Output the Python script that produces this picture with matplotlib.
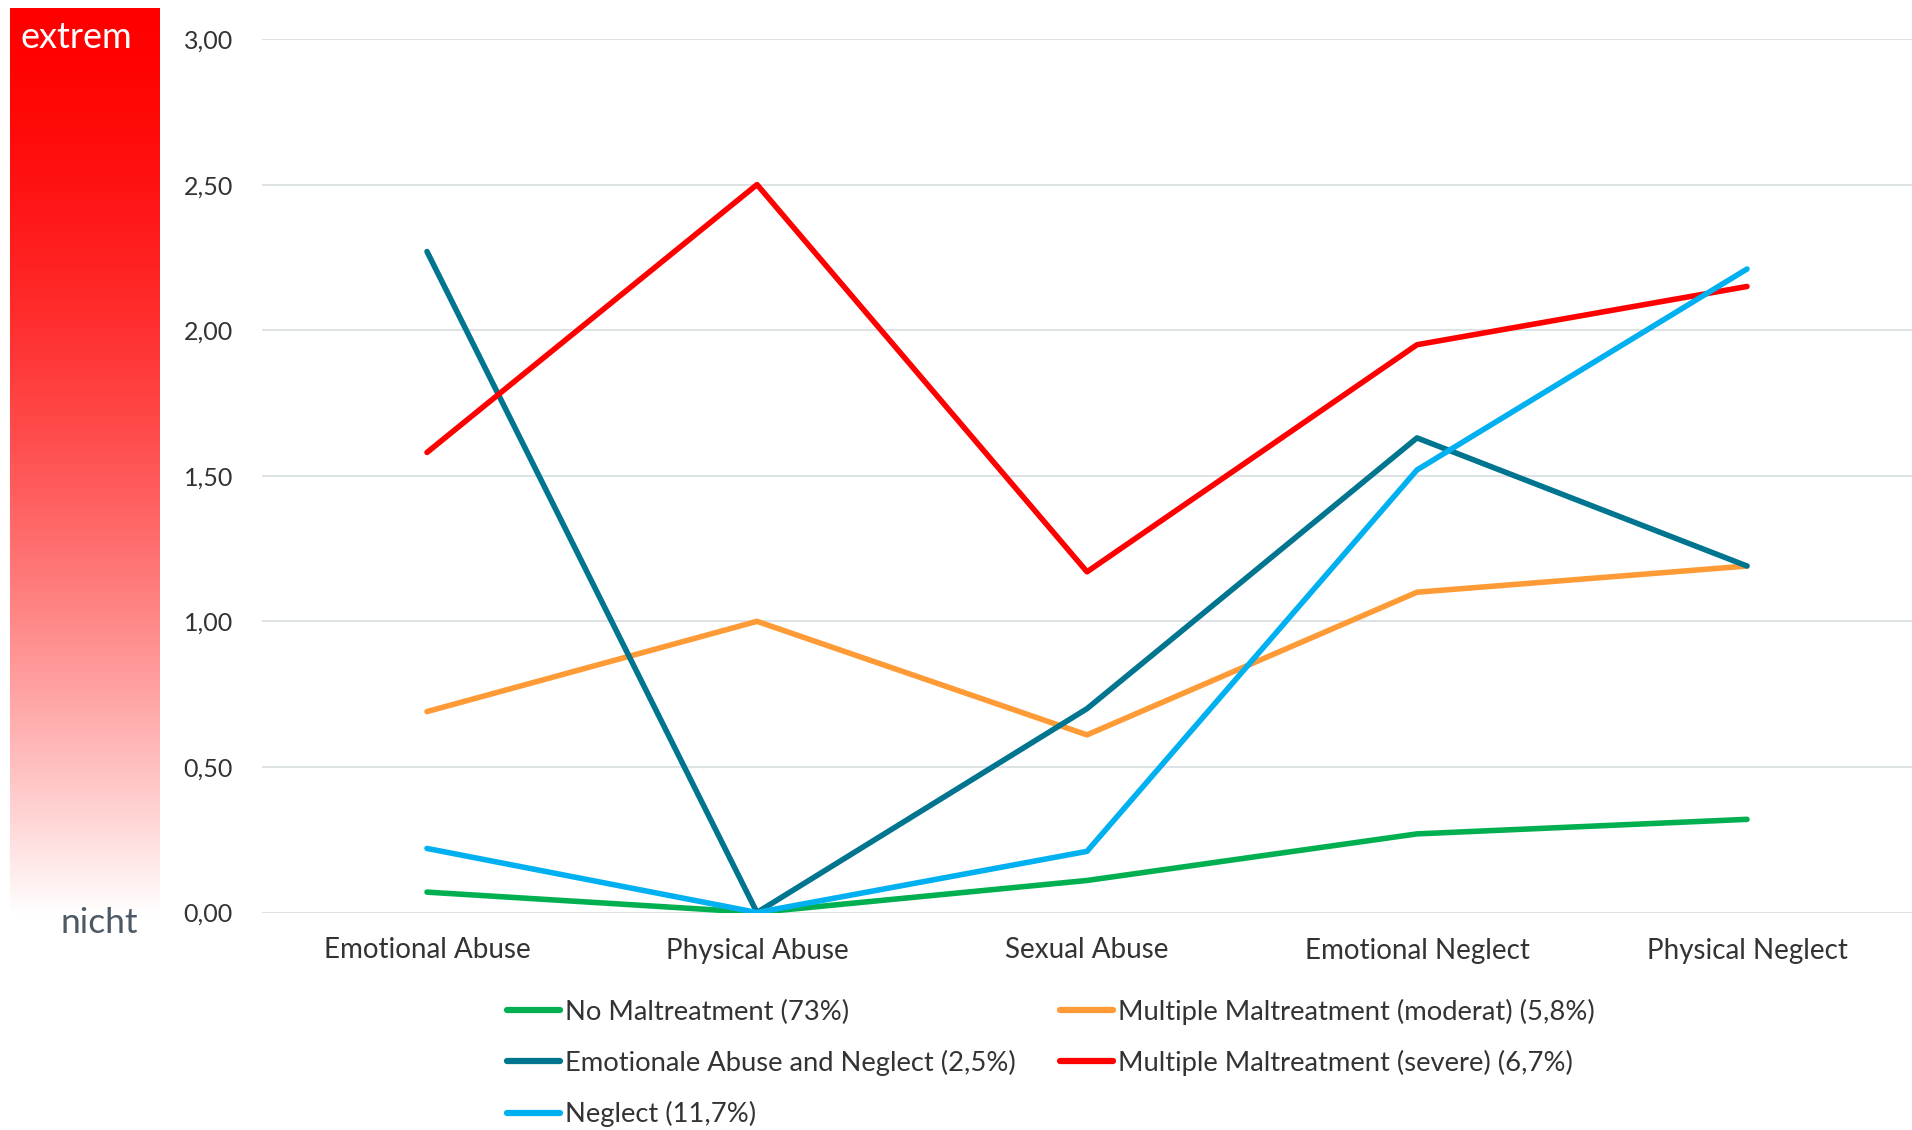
import matplotlib.pyplot as plt
from matplotlib.lines import Line2D
import numpy as np

plt.rcParams['font.family'] = ['Lato', 'DejaVu Sans']

categories = ['Emotional Abuse', 'Physical Abuse', 'Sexual Abuse', 'Emotional Neglect', 'Physical Neglect']

no_maltreatment = [0.07, 0.00, 0.11, 0.27, 0.32]
multiple_moderat = [0.69, 1.00, 0.61, 1.10, 1.19]
emo_abuse_neglect = [2.27, 0.00, 0.70, 1.63, 1.19]
multiple_severe = [1.58, 2.50, 1.17, 1.95, 2.15]
neglect = [0.22, 0.00, 0.21, 1.52, 2.21]

series_names = ['No Maltreatment (73%)',
                'Multiple Maltreatment (moderat) (5,8%)',
                'Emotionale Abuse and Neglect (2,5%)',
                'Multiple Maltreatment (severe) (6,7%)',
                'Neglect (11,7%)']
series_values = [no_maltreatment, multiple_moderat, emo_abuse_neglect, multiple_severe, neglect]
series_colors = ['#00B050', '#FF9B37', '#00758F', '#FF0000', '#00B0F0']

yticks = [0, 0.5, 1.0, 1.5, 2.0, 2.5, 3.0]

W, H = 1912, 1130
fig = plt.figure(figsize=(W / 100, H / 100), dpi=100)

# main line chart
ax = fig.add_axes([262 / W, 1 - 912.5 / H, (W - 262) / W, (912.5 - 39) / H])
x = np.arange(len(categories))
for name, vals, col in zip(series_names, series_values, series_colors):
    ax.plot(x, vals, color=col, lw=4.0, solid_capstyle='round',
            solid_joinstyle='round', zorder=3)

ax.set_xlim(-0.5, len(categories) - 0.5)
ax.set_ylim(0, 3)
ax.set_yticks(yticks)
ax.set_yticklabels([f'{v:.2f}'.replace('.', ',') for v in yticks])
ax.set_xticks(x)
ax.set_xticklabels(categories)
ax.grid(axis='y', color='#DDE2E5', lw=1.4)
ax.set_axisbelow(True)
for s in ax.spines.values():
    s.set_visible(False)
ax.tick_params(axis='y', length=0, pad=21, labelsize=18, labelcolor='#333333')
ax.tick_params(axis='x', length=0, pad=18, labelsize=20, labelcolor='#333333')

# legend: two columns, filled row by row
order = [0, 2, 4, 1, 3]
handles = [Line2D([], [], color=series_colors[i], lw=4.5, solid_capstyle='round') for i in order]
labels = [series_names[i] for i in order]
fig.legend(handles, labels, loc='upper left', bbox_to_anchor=(507 / W, 1 - 998.5 / H),
           ncol=2, frameon=False, fontsize=19.7, handlelength=1.95, handletextpad=0.18,
           columnspacing=1.6, labelspacing=0.92, borderpad=0, borderaxespad=0,
           labelcolor='#333333')

# intensity bar on the left
bax = fig.add_axes([10 / W, 1 - 915 / H, 150 / W, (915 - 8) / H])
t = np.linspace(0, 1, 400) ** 1.6
grad = np.ones((400, 1, 3))
grad[:, 0, 1] = t
grad[:, 0, 2] = t
bax.imshow(grad, aspect='auto', interpolation='bilinear')
bax.axis('off')

fig.text(21 / W, 1 - 37 / H, 'extrem', color='white', fontsize=26, va='center', ha='left')
fig.text(138 / W, 1 - 933 / H, 'nicht', color='#4D5A66', fontsize=25.5, va='baseline', ha='right')

fig.savefig('out.png', dpi=100)
